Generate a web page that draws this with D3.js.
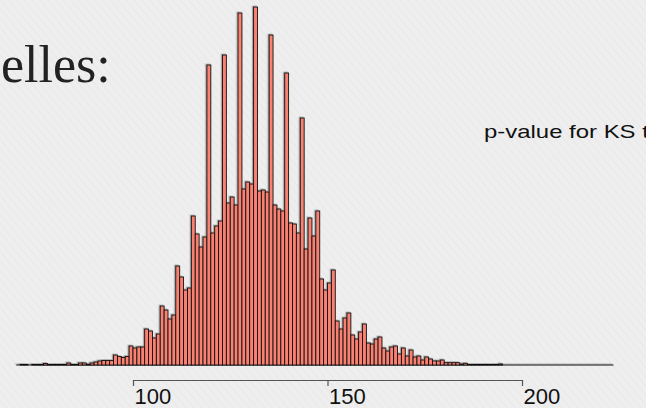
<!DOCTYPE html>
<html>
<head>
<meta charset="utf-8">
<script src="https://cdn.jsdelivr.net/npm/d3@7"></script>
<style>
  html, body { margin: 0; padding: 0; background: #ededed; overflow: hidden; }
</style>
</head>
<body>
<div id="chart"></div>
<script>
// First bin (left edge) of the histogram, bins are 1 unit wide
const binStart = 70;

// Counts per bin, from 70 up to 194
const counts = [
  0, 0.5, 0.5, 0, 0.5, 0.5, 0.5, 1.5, 0.5, 0.5,        // 70-79
  0.5, 0.5, 0.5, 2, 0.5, 0.5, 2, 2, 0.7, 2,            // 80-89
  3, 4, 4.5, 4.5, 4.5, 10, 8.5, 7.5, 8.5, 19,          // 90-99
  17, 18, 18, 36, 34, 27, 31, 59, 55, 46,              // 100-109
  50, 99, 88, 75, 77, 149, 131, 118, 128, 300,         // 110-119
  132, 139, 144, 310, 162, 168, 160, 352, 176, 183,    // 120-129
  181, 358, 174, 175, 173, 330, 160, 156, 154, 292,    // 130-139
  142, 141, 132, 247, 116, 147, 129, 154, 86, 75,      // 140-149
  82, 95, 44, 36, 47, 52, 30, 26, 33, 41,              // 150-159
  22, 21, 26, 28, 17, 14, 18, 19, 11, 17,              // 160-169
  9, 15, 8, 9, 5, 8, 6, 4, 4, 5,                       // 170-179
  2.3, 2.3, 2.3, 2.3, 1, 1.7, 0.5, 0.5, 0.5, 0.5,      // 180-189
  0.5, 0.5, 0.5, 0.5, 1                                // 190-194
];

// Range drawn for the baseline
const binEnd = 223.5;

// Axis ticks
const tickValues = [100, 150, 200];

// Texts
const headingText = "elles:";
const sideText = "p-value for KS test";

const W = 646, H = 408;

const svg = d3.select("#chart")
  .append("svg")
  .attr("width", W)
  .attr("height", H);

const defs = svg.append("defs");

// faint diagonal texture of the slide background
const pat = defs.append("pattern")
  .attr("id", "bgtex")
  .attr("width", 6)
  .attr("height", 6)
  .attr("patternUnits", "userSpaceOnUse")
  .attr("patternTransform", "rotate(-40)");
pat.append("rect").attr("width", 6).attr("height", 6).attr("fill", "#eeeeee");
pat.append("line")
  .attr("x1", 0).attr("y1", 0).attr("x2", 0).attr("y2", 6)
  .attr("stroke", "#e6e6e6")
  .attr("stroke-width", 1.5);

svg.append("rect")
  .attr("width", W)
  .attr("height", H)
  .attr("fill", "url(#bgtex)");

// Soft shadow like the slide
defs.append("filter")
  .attr("id", "shadow")
  .attr("x", "-5%").attr("y", "-5%")
  .attr("width", "110%").attr("height", "110%")
  .append("feDropShadow")
  .attr("dx", -1.2)
  .attr("dy", -0.8)
  .attr("stdDeviation", 0.6)
  .attr("flood-color", "#000")
  .attr("flood-opacity", 0.3);

// Scales
const x = d3.scaleLinear()
  .domain([100, 200])
  .range([133, 522]);

const y = d3.scaleLinear()
  .domain([0, 360])
  .range([365, 5]);

const bins = counts.map((c, i) => ({ x0: binStart + i, x1: binStart + i + 1, count: c }));

const plot = svg.append("g").attr("filter", "url(#shadow)");

// Baseline
plot.append("line")
  .attr("x1", x(binStart))
  .attr("x2", x(binEnd))
  .attr("y1", y(0))
  .attr("y2", y(0))
  .attr("stroke", "#111")
  .attr("stroke-width", 1.2);

// Bars
plot.selectAll("rect.bar")
  .data(bins)
  .enter()
  .append("rect")
  .attr("class", "bar")
  .attr("x", d => x(d.x0))
  .attr("y", d => y(d.count))
  .attr("width", d => x(d.x1) - x(d.x0))
  .attr("height", d => y(0) - y(d.count))
  .attr("fill", "#fa8072")
  .attr("stroke", "#111")
  .attr("stroke-width", 0.9);

// Axis
const axis = svg.append("g")
  .attr("transform", "translate(0,380)")
  .call(d3.axisBottom(x).tickValues(tickValues).tickSize(6).tickSizeOuter(0));

axis.select(".domain").attr("stroke", "#555").attr("stroke-width", 1.2);
axis.selectAll(".tick line").attr("stroke", "#555").attr("stroke-width", 1.2);
axis.selectAll(".tick text")
  .attr("text-anchor", "start")
  .attr("x", 1)
  .attr("y", 8)
  .attr("fill", "#111")
  .style("font-family", "'Liberation Sans', Arial, sans-serif")
  .style("font-size", "22px");

// Heading fragment
svg.append("text")
  .attr("x", 1)
  .attr("y", 82)
  .attr("fill", "#222")
  .style("font-family", "'Liberation Serif', 'DejaVu Serif', serif")
  .style("font-size", "52px")
  .text(headingText);

// Side text, a bit stretched sideways and cut by the right edge
svg.append("text")
  .attr("transform", "translate(484,138) scale(1.33,1)")
  .attr("fill", "#111")
  .style("font-family", "'Liberation Sans', Arial, sans-serif")
  .style("font-size", "18px")
  .text(sideText);
</script>
</body>
</html>
